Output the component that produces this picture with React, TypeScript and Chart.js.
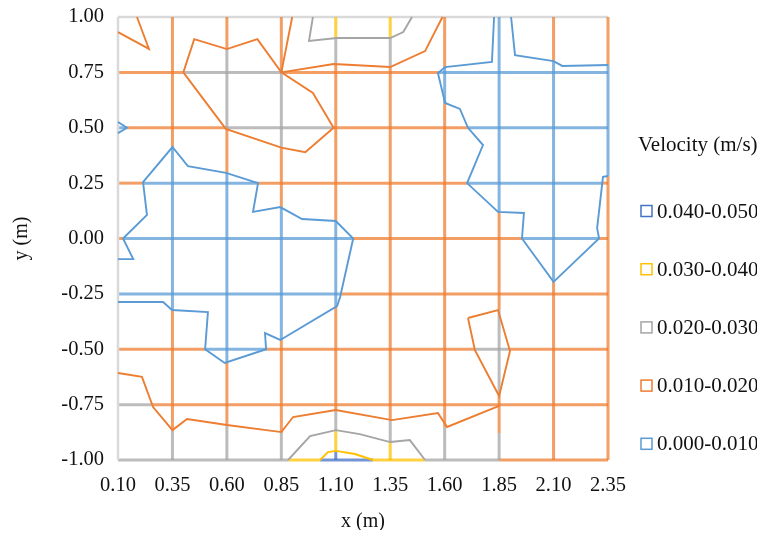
import { useEffect, useRef } from 'react';
import { Chart, registerables } from 'chart.js';

Chart.register(...registerables);

// ---- data ----
const xTicks = [0.10, 0.35, 0.60, 0.85, 1.10, 1.35, 1.60, 1.85, 2.10, 2.35];
const yTicks = [-1.00, -0.75, -0.50, -0.25, 0.00, 0.25, 0.50, 0.75, 1.00];

const xTitle = 'x (m)';
const yTitle = 'y (m)';
const legendTitle = 'Velocity (m/s)';
const bandKeys = ['d', 'y', 'g', 'o', 'b'];
const bandLabels = ['0.040-0.050', '0.030-0.040', '0.020-0.030', '0.010-0.020', '0.000-0.010'];

// wireframe grid lines: fixed coordinate, then runs [from, to, band]
const verticalRuns: [number, [number, number, string][]][] = [
  [0.10, [[1.0, -1.0, 'edge']]],
  [0.35, [[1.0, 0.413, 'o'], [0.413, -0.323, 'b'], [-0.323, -0.865, 'o'], [-0.865, -1.0, 'g']]],
  [0.60, [[1.0, 0.855, 'o'], [0.855, 0.495, 'g'], [0.495, 0.296, 'o'], [0.296, -0.562, 'b'], [-0.562, -0.842, 'o'], [-0.842, -1.0, 'g']]],
  [0.85, [[1.0, 0.75, 'o'], [0.75, 0.41, 'g'], [0.41, 0.142, 'o'], [0.142, -0.458, 'b'], [-0.458, -0.874, 'o'], [-0.874, -1.0, 'g']]],
  [1.10, [[1.0, 0.905, 'y'], [0.905, 0.788, 'g'], [0.788, 0.079, 'o'], [0.079, -0.305, 'b'], [-0.305, -0.774, 'o'], [-0.774, -0.865, 'g'], [-0.865, -0.959, 'y'], [-0.959, -1.0, 'd']]],
  [1.35, [[1.0, 0.905, 'y'], [0.905, 0.774, 'g'], [0.774, -0.82, 'o'], [-0.82, -0.919, 'g'], [-0.919, -1.0, 'y']]],
  [1.60, [[1.0, 0.774, 'o'], [0.774, 0.612, 'b'], [0.612, -0.851, 'o'], [-0.851, -1.0, 'g']]],
  [1.85, [[1.0, 0.12, 'b'], [0.12, -0.323, 'o'], [-0.323, -0.711, 'g'], [-0.711, -0.878, 'o'], [-0.878, -1.0, 'g']]],
  [2.10, [[1.0, 0.801, 'o'], [0.801, -0.196, 'b'], [-0.196, -1.0, 'o']]],
  [2.35, [[1.0, 0.783, 'o'], [0.783, 0.282, 'b'], [0.282, -1.0, 'o']]],
];

const horizontalRuns: [number, [number, number, string][]][] = [
  [1.00, [[0.10, 2.35, 'edge']]],
  [0.75, [[0.10, 0.40, 'o'], [0.40, 0.85, 'g'], [0.85, 1.57, 'o'], [1.57, 2.35, 'b']]],
  [0.50, [[0.10, 0.141, 'b'], [0.141, 0.595, 'o'], [0.595, 1.09, 'g'], [1.09, 1.707, 'o'], [1.707, 2.35, 'b']]],
  [0.25, [[0.10, 0.215, 'o'], [0.215, 0.743, 'b'], [0.743, 1.703, 'o'], [1.703, 2.327, 'b'], [2.327, 2.35, 'o']]],
  [0.00, [[0.10, 0.123, 'o'], [0.123, 1.18, 'b'], [1.18, 1.955, 'o'], [1.955, 2.309, 'b'], [2.309, 2.35, 'o']]],
  [-0.25, [[0.10, 1.123, 'b'], [1.123, 2.35, 'o']]],
  [-0.50, [[0.10, 0.50, 'o'], [0.50, 0.78, 'b'], [0.78, 1.739, 'o'], [1.739, 1.90, 'g'], [1.90, 2.35, 'o']]],
  [-0.75, [[0.10, 0.26, 'g'], [0.26, 2.35, 'o']]],
  [-1.00, [[0.10, 0.881, 'g'], [0.881, 1.028, 'y'], [1.028, 1.271, 'd'], [1.271, 1.51, 'y'], [1.51, 1.85, 'g'], [1.85, 2.35, 'o']]],
];

// contour lines: band + points [x, y]
const contourTopLeft: [number, number][] = [[0.10, 0.932], [0.242, 0.856], [0.187, 1.0]];
const contourUpperLoop: [number, number][] = [[0.40, 0.75], [0.45, 0.90], [0.60, 0.855], [0.74, 0.90], [0.85, 0.75], [0.995, 0.657], [1.09, 0.50], [0.96, 0.39], [0.85, 0.41], [0.595, 0.495], [0.40, 0.75]];
const contourUpLeftSpur: [number, number][] = [[0.85, 0.75], [0.90, 1.0]];
const contourUpRight: [number, number][] = [[0.85, 0.75], [1.09, 0.788], [1.35, 0.774], [1.51, 0.846], [1.59, 1.0]];
const contourTopGray: [number, number][] = [[0.995, 1.0], [0.977, 0.892], [1.105, 0.905], [1.35, 0.905], [1.41, 0.932], [1.45, 1.0]];
const contourLeftNotch: [number, number][] = [[0.10, 0.526], [0.141, 0.50], [0.10, 0.476]];
const contourLeftBlob: [number, number][] = [[0.10, -0.093], [0.17, -0.093], [0.123, 0.0], [0.233, 0.106], [0.215, 0.255], [0.35, 0.413], [0.421, 0.327], [0.596, 0.296], [0.743, 0.25], [0.72, 0.12], [0.845, 0.142], [0.945, 0.088], [1.10, 0.079], [1.18, 0.0], [1.12, -0.264], [1.106, -0.305], [0.845, -0.458], [0.775, -0.427], [0.78, -0.50], [0.59, -0.562], [0.50, -0.50], [0.513, -0.332], [0.348, -0.323], [0.307, -0.287], [0.10, -0.287]];
const contourRightBlob: [number, number][] = [[1.827, 1.0], [1.817, 0.797], [1.602, 0.774], [1.569, 0.747], [1.602, 0.612], [1.67, 0.585], [1.707, 0.50], [1.776, 0.422], [1.703, 0.25], [1.845, 0.12], [1.964, 0.115], [1.955, 0.0], [2.10, -0.196], [2.309, 0.0], [2.30, 0.047], [2.327, 0.278], [2.35, 0.282]];
const contourRightTop: [number, number][] = [[1.905, 1.0], [1.923, 0.828], [2.10, 0.801], [2.14, 0.779], [2.35, 0.783]];
const contourQuad: [number, number][] = [[1.707, -0.359], [1.845, -0.323], [1.90, -0.508], [1.85, -0.711], [1.739, -0.504], [1.707, -0.359]];
const contourLower: [number, number][] = [[0.10, -0.607], [0.21, -0.625], [0.261, -0.761], [0.35, -0.865], [0.417, -0.815], [0.60, -0.842], [0.85, -0.874], [0.904, -0.806], [1.10, -0.774], [1.358, -0.82], [1.569, -0.788], [1.611, -0.851], [1.85, -0.756]];
const contourBottomGray: [number, number][] = [[0.881, -1.0], [0.982, -0.892], [1.10, -0.865], [1.21, -0.883], [1.35, -0.919], [1.44, -0.91], [1.51, -1.0]];
const contourBottomYellow: [number, number][] = [[1.028, -1.0], [1.064, -0.964], [1.10, -0.959], [1.188, -0.973], [1.271, -1.0]];

const contours: [string, [number, number][]][] = [
  ['o', contourTopLeft],
  ['o', contourUpperLoop],
  ['o', contourUpLeftSpur],
  ['o', contourUpRight],
  ['g', contourTopGray],
  ['b', contourLeftNotch],
  ['b', contourLeftBlob],
  ['b', contourRightBlob],
  ['b', contourRightTop],
  ['o', contourQuad],
  ['o', contourLower],
  ['g', contourBottomGray],
  ['y', contourBottomYellow],
];

// ---- styles ----
const COLORS: Record<string, string> = {
  d: '#4472C4',
  y: '#FFC000',
  g: '#A5A5A5',
  o: '#ED7D31',
  b: '#5B9BD5',
  edge: '#D9D9D9',
};
const FONT = "'Liberation Serif', 'Times New Roman', serif";
const TEXT = '#111111';

function withAlpha(hex: string, a: number) {
  const n = parseInt(hex.slice(1), 16);
  return `rgba(${(n >> 16) & 255},${(n >> 8) & 255},${n & 255},${a})`;
}

const legendPlugin = {
  id: 'bandLegend',
  afterDraw(chart: any) {
    const ctx = chart.ctx;
    const x0 = chart.chartArea.right + 30;
    ctx.save();
    ctx.fillStyle = TEXT;
    ctx.font = `21px ${FONT}`;
    ctx.textBaseline = 'middle';
    ctx.textAlign = 'left';
    ctx.fillText(legendTitle, x0, 137);
    bandLabels.forEach((label, i) => {
      const cy = 203 + i * 58.2;
      ctx.fillStyle = '#ffffff';
      ctx.fillRect(x0 + 3, cy - 5.5, 11, 11);
      ctx.strokeStyle = COLORS[bandKeys[i]];
      ctx.lineWidth = 1.5;
      ctx.strokeRect(x0 + 3, cy - 5.5, 11, 11);
      ctx.fillStyle = TEXT;
      ctx.fillText(label, x0 + 19, cy + 1);
    });
    ctx.restore();
  },
};

function noAutoPad(s: any) {
  s.paddingTop = 0;
  s.paddingBottom = 0;
  s.paddingLeft = 0;
  s.paddingRight = 0;
}

export default function App() {
  const ref = useRef<HTMLCanvasElement | null>(null);

  useEffect(() => {
    if (!ref.current) return;
    const datasets: any[] = [];
    const gridSeg = (pts: { x: number; y: number }[], band: string) => ({
      data: pts,
      borderColor: band === 'edge' ? COLORS.edge : withAlpha(COLORS[band], 0.75),
      borderWidth: band === 'edge' ? 2.5 : 3,
      showLine: true,
      pointRadius: 0,
      borderCapStyle: 'butt',
      clip: 6,
      order: 2,
    });
    verticalRuns.forEach(([x, runs]) => {
      runs.forEach(([a, b, band]) => datasets.push(gridSeg([{ x, y: a }, { x, y: b }], band)));
    });
    horizontalRuns.forEach(([y, runs]) => {
      runs.forEach(([a, b, band]) => datasets.push(gridSeg([{ x: a, y }, { x: b, y }], band)));
    });
    contours.forEach(([band, pts]) => {
      datasets.push({
        data: pts.map(([x, y]) => ({ x, y })),
        borderColor: COLORS[band],
        borderWidth: 1.9,
        showLine: true,
        pointRadius: 0,
        tension: 0,
        borderJoinStyle: 'miter',
        clip: 6,
        order: 1,
      });
    });

    const chart = new Chart(ref.current, {
      type: 'scatter',
      data: { datasets },
      plugins: [legendPlugin],
      options: {
        animation: false,
        responsive: false,
        maintainAspectRatio: false,
        layout: { padding: { top: 9, right: 149, left: 0, bottom: 0 }, autoPadding: false },
        plugins: { legend: { display: false }, tooltip: { enabled: false } },
        scales: {
          x: {
            type: 'linear',
            min: xTicks[0],
            max: xTicks[xTicks.length - 1],
            afterBuildTicks: (s: any) => { s.ticks = xTicks.map((v) => ({ value: v })); },
            afterFit: (s: any) => { s.height = 70; noAutoPad(s); },
            grid: { display: false, drawTicks: false },
            border: { display: false },
            ticks: {
              padding: 13,
              color: TEXT,
              font: { family: FONT, size: 20.5 },
              callback: (v: any) => Number(v).toFixed(2),
            },
            title: {
              display: true,
              text: xTitle,
              color: TEXT,
              font: { family: FONT, size: 20, lineHeight: 0.9 },
              padding: { top: 0, bottom: -1 },
            },
          },
          y: {
            type: 'linear',
            min: yTicks[0],
            max: yTicks[yTicks.length - 1],
            afterBuildTicks: (s: any) => { s.ticks = yTicks.map((v) => ({ value: v })); },
            afterFit: (s: any) => { s.width = 110; noAutoPad(s); },
            grid: { display: false, drawTicks: false },
            border: { display: false },
            ticks: {
              padding: 14,
              color: TEXT,
              font: { family: FONT, size: 20.5 },
              callback: (v: any) => Number(v).toFixed(2),
            },
            title: {
              display: true,
              text: yTitle,
              color: TEXT,
              font: { family: FONT, size: 20 },
              padding: { top: 1.5, bottom: 0 },
            },
          },
        },
      },
    });
    return () => chart.destroy();
  }, []);

  return (
    <div style={{ width: 749, height: 522 }}>
      <canvas ref={ref} width={749} height={522} style={{ display: 'block' }} />
    </div>
  );
}
